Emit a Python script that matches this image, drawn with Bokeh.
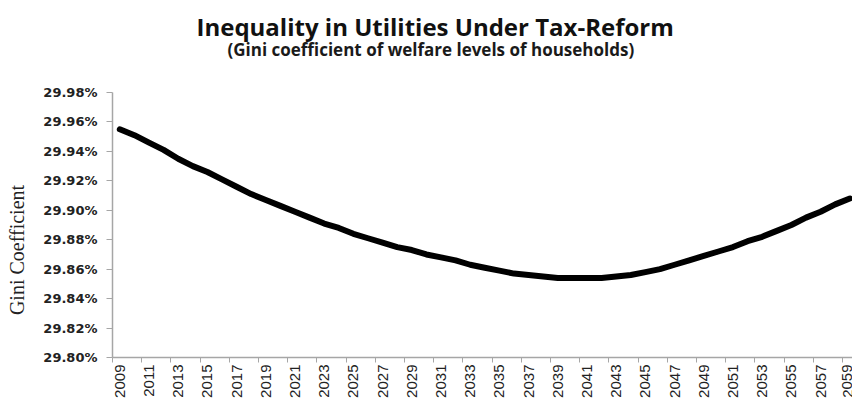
from bokeh.plotting import figure
from bokeh.models import Range1d, FixedTicker, Title
from bokeh.embed import file_html
from bokeh.resources import INLINE

# ---- data ----
years = list(range(2009, 2060))
gini = [29.955, 29.951, 29.946, 29.941, 29.935, 29.930, 29.926, 29.921, 29.916, 29.911,
        29.907, 29.903, 29.899, 29.895, 29.891, 29.888, 29.884, 29.881, 29.878, 29.875,
        29.873, 29.870, 29.868, 29.866, 29.863, 29.861, 29.859, 29.857, 29.856, 29.855,
        29.854, 29.854, 29.854, 29.854, 29.855, 29.856, 29.858, 29.860, 29.863, 29.866,
        29.869, 29.872, 29.875, 29.879, 29.882, 29.886, 29.890, 29.895, 29.899, 29.904,
        29.908]
y_ticks = [29.80, 29.82, 29.84, 29.86, 29.88, 29.90, 29.92, 29.94, 29.96, 29.98]
y_tick_labels = ["29.80%", "29.82%", "29.84%", "29.86%", "29.88%",
                 "29.90%", "29.92%", "29.94%", "29.96%", "29.98%"]
x_label_years = list(range(2009, 2060, 2))
x_boundaries = [y - 0.5 for y in range(2009, 2061, 2)]

title_text = "Inequality in Utilities Under Tax-Reform"
subtitle_text = "(Gini coefficient of welfare levels of households)"
y_title = "Gini Coefficient"

W, H = 852, 400
LEFT, BOTTOM, TOP = 112, 43, 92
cat_w = 14.6
n_visible = (W - LEFT) / cat_w

p = figure(width=W, height=H, output_backend="svg", toolbar_location=None,
           x_range=Range1d(2008.5, 2008.5 + n_visible), y_range=Range1d(29.80, 29.98),
           min_border_left=LEFT, min_border_right=0, min_border_bottom=BOTTOM,
           min_border_top=TOP, title=None)
p.outline_line_color = None
p.xgrid.visible = False
p.ygrid.visible = False
p.background_fill_color = "white"
p.border_fill_color = "white"

# empty spacer panel between the plot area and the subtitle
spacer = Title(text=" ", text_font_size="10px", standoff=19)
p.add_layout(spacer, "above")
sub = Title(text=subtitle_text, align="left", offset=115,
            text_font="Open Sans", text_font_size="17px", text_font_style="bold",
            text_color="#1a1a1a", standoff=0)
p.add_layout(sub, "above")
ttl = Title(text=title_text, align="left", offset=84,
            text_font="Open Sans", text_font_size="24px", text_font_style="bold",
            text_color="#111111", standoff=-14)
p.add_layout(ttl, "above")

p.line(years, gini, line_width=6, line_color="black", line_cap="round", line_join="round")

axc = "#a6a6a6"
# x axis
xa = p.xaxis[0]
xa.ticker = FixedTicker(ticks=x_label_years, minor_ticks=x_boundaries)
xa.major_tick_line_color = None
xa.major_tick_out = 0
xa.major_tick_in = 0
xa.minor_tick_line_color = axc
xa.minor_tick_out = 5
xa.minor_tick_in = 0
xa.axis_line_color = axc
xa.axis_line_width = 1.5
xa.major_label_orientation = 1.5708
xa.major_label_standoff = 2
xa.major_label_text_font = "Liberation Sans"
xa.major_label_text_font_size = "15px"
xa.major_label_text_color = "#222222"
xa.major_label_overrides = {yr: str(yr) for yr in x_label_years}

# y axis
ya = p.yaxis[0]
ya.ticker = FixedTicker(ticks=y_ticks, minor_ticks=[])
ya.major_label_overrides = {t: l for t, l in zip(y_ticks, y_tick_labels)}
ya.major_tick_line_color = axc
ya.major_tick_out = 6
ya.major_tick_in = 0
ya.axis_line_color = axc
ya.axis_line_width = 1.5
ya.major_label_standoff = 9
ya.major_label_text_font = "DejaVu Sans"
ya.major_label_text_font_style = "bold"
ya.major_label_text_font_size = "13px"
ya.major_label_text_color = "#222222"
# trailing no-break spaces push the visible title a little below the frame centre,
# as in the reference
ya.axis_label = y_title + "\u00a0" * 10
ya.axis_label_text_font = "Liberation Serif"
ya.axis_label_text_font_style = "normal"
ya.axis_label_text_font_size = "20px"
ya.axis_label_text_color = "#222222"
ya.axis_label_standoff = 12

open("out.html", "w").write(file_html(p, INLINE))
